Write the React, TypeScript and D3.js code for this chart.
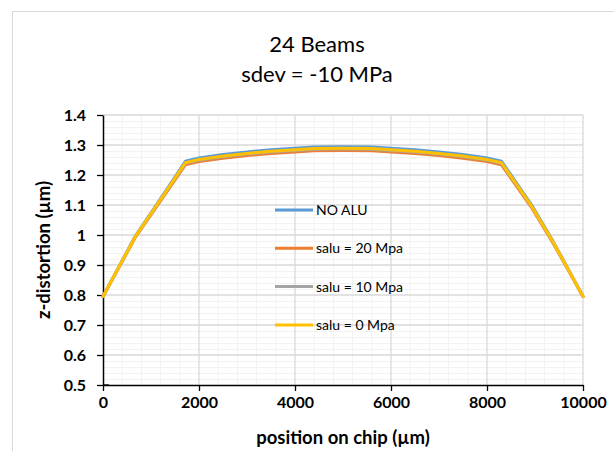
import React, { useRef, useEffect } from 'react';
import * as d3 from 'd3';

// position on chip (µm)
const positions = [0, 667, 1465, 1715, 2000, 2500, 3000, 3500, 4000, 4400, 5000, 5600, 6000, 6500, 7000, 7500, 8000, 8300, 8930, 9380, 10000];

const noAlu = [0.795, 0.995, 1.185, 1.246, 1.257, 1.268, 1.277, 1.284, 1.289, 1.293, 1.294, 1.293, 1.289, 1.284, 1.277, 1.268, 1.257, 1.246, 1.1, 0.978, 0.795];
const salu20 = [0.795, 0.99, 1.175, 1.234, 1.245, 1.256, 1.265, 1.272, 1.277, 1.281, 1.282, 1.281, 1.277, 1.272, 1.265, 1.256, 1.245, 1.234, 1.091, 0.972, 0.795];
const salu10 = [0.795, 0.992, 1.179, 1.239, 1.25, 1.261, 1.27, 1.277, 1.282, 1.286, 1.287, 1.286, 1.282, 1.277, 1.27, 1.261, 1.25, 1.239, 1.095, 0.975, 0.795];
const salu0 = [0.795, 0.993, 1.181, 1.241, 1.252, 1.263, 1.272, 1.279, 1.284, 1.288, 1.289, 1.288, 1.284, 1.279, 1.272, 1.263, 1.252, 1.241, 1.096, 0.976, 0.795];

const seriesNames = ['NO ALU', 'salu = 20 Mpa', 'salu = 10 Mpa', 'salu = 0 Mpa'];
const seriesColors = ['#5b9bd5', '#ed7d31', '#a5a5a5', '#ffc000'];

const xTicks = [0, 2000, 4000, 6000, 8000, 10000];
const yTicks = [0.5, 0.6, 0.7, 0.8, 0.9, 1, 1.1, 1.2, 1.3, 1.4];

const App = () => {
  const ref = useRef<SVGSVGElement>(null);

  useEffect(() => {
    const svg = d3.select(ref.current);
    svg.selectAll('*').remove();

    const width = 614;
    const height = 451;
    const margin = { top: 115, right: 31, bottom: 66, left: 103 };
    const font = 'Lato, "Open Sans", sans-serif';

    const x = d3.scaleLinear().domain([0, 10000]).range([margin.left, width - margin.right]);
    const y = d3.scaleLinear().domain([0.5, 1.4]).range([height - margin.bottom, margin.top]);

    svg.append('rect')
      .attr('x', 0).attr('y', 0).attr('width', width).attr('height', height)
      .attr('fill', 'white');

    // chart frame
    svg.append('rect')
      .attr('x', 12.5).attr('y', 11.5).attr('width', width + 20).attr('height', height + 20)
      .attr('fill', 'none').attr('stroke', '#d9d9d9');

    // minor grid
    const minorX = d3.range(0, 10001, 400).filter(v => v % 2000 !== 0);
    const minorY = d3.range(50, 141, 2).map(v => v / 100).filter(v => Math.round(v * 100) % 10 !== 0);

    const grid = svg.append('g');
    grid.selectAll('.mx').data(minorX).enter().append('line')
      .attr('x1', d => x(d)).attr('x2', d => x(d))
      .attr('y1', y(0.5)).attr('y2', y(1.4))
      .attr('stroke', '#f2f2f2').attr('stroke-width', 1);
    grid.selectAll('.my').data(minorY).enter().append('line')
      .attr('x1', x(0)).attr('x2', x(10000))
      .attr('y1', d => Math.round(y(d)) + 0.5).attr('y2', d => Math.round(y(d)) + 0.5)
      .attr('stroke', '#f2f2f2').attr('stroke-width', 1);
    grid.selectAll('.Mx').data(xTicks.slice(1)).enter().append('line')
      .attr('x1', d => x(d)).attr('x2', d => x(d))
      .attr('y1', y(0.5)).attr('y2', y(1.4))
      .attr('stroke', '#d9d9d9').attr('stroke-width', 1.3);
    grid.selectAll('.My').data(yTicks.slice(1)).enter().append('line')
      .attr('x1', x(0)).attr('x2', x(10000))
      .attr('y1', d => y(d)).attr('y2', d => y(d))
      .attr('stroke', '#d9d9d9').attr('stroke-width', 1.3);

    // axes
    const xAxis = svg.append('g')
      .attr('transform', `translate(0,${y(0.5)})`)
      .call(d3.axisBottom(x).tickValues(xTicks).tickFormat(d3.format('d')).tickSize(6).tickSizeOuter(0));
    const yAxis = svg.append('g')
      .attr('transform', `translate(${x(0)},0)`)
      .call(d3.axisLeft(y).tickValues(yTicks).tickFormat(d => String(d)).tickSize(6).tickSizeOuter(0));

    [xAxis, yAxis].forEach(a => {
      a.select('.domain').attr('stroke', '#000').attr('stroke-width', 1.5);
      a.selectAll('.tick line').attr('stroke', '#000').attr('stroke-width', 1.3);
      a.selectAll('.tick text')
        .attr('fill', '#000')
        .style('font-family', font)
        .style('font-size', '16px')
        .style('font-weight', 'bold');
    });
    xAxis.selectAll('.tick text').attr('y', 12).attr('dy', '0.71em');
    yAxis.selectAll('.tick text').attr('x', -17).attr('dy', '0.36em');
    // cross at axis origin
    svg.append('line')
      .attr('x1', x(0)).attr('x2', x(0) + 6)
      .attr('y1', y(0.5)).attr('y2', y(0.5))
      .attr('stroke', '#000').attr('stroke-width', 1.3);

    // series
    const series = [noAlu, salu20, salu10, salu0];
    const line = d3.line<number>()
      .x((_, i) => x(positions[i]))
      .y(d => y(d));

    svg.append('g')
      .selectAll('path')
      .data(series)
      .enter()
      .append('path')
      .attr('d', d => line(d))
      .attr('fill', 'none')
      .attr('stroke', (_, i) => seriesColors[i])
      .attr('stroke-width', 3)
      .attr('stroke-linejoin', 'round')
      .attr('stroke-linecap', 'round');

    // legend
    const legend = svg.append('g').attr('transform', 'translate(275,210)');
    seriesNames.forEach((name, i) => {
      const row = legend.append('g').attr('transform', `translate(0,${i * 38.3})`);
      row.append('line')
        .attr('x1', 0).attr('x2', 38)
        .attr('y1', 0).attr('y2', 0)
        .attr('stroke', seriesColors[i]).attr('stroke-width', 3);
      row.append('text')
        .attr('x', 41).attr('y', 0).attr('dy', '0.36em')
        .style('font-family', font).style('font-size', '14px')
        .attr('fill', '#000')
        .text(name);
    });

    // titles
    svg.append('text')
      .attr('x', 317).attr('y', 52)
      .attr('text-anchor', 'middle')
      .style('font-family', font).style('font-size', '22px')
      .attr('fill', '#000')
      .text('24 Beams');
    svg.append('text')
      .attr('x', 317).attr('y', 82)
      .attr('text-anchor', 'middle')
      .style('font-family', font).style('font-size', '22px')
      .attr('fill', '#000')
      .text('sdev = -10 MPa');

    svg.append('text')
      .attr('x', (x(0) + x(10000)) / 2).attr('y', 444)
      .attr('text-anchor', 'middle')
      .style('font-family', font).style('font-size', '18.5px').style('font-weight', 'bold')
      .attr('fill', '#000')
      .text('position on chip (µm)');

    svg.append('text')
      .attr('transform', `translate(50,${(y(0.5) + y(1.4)) / 2}) rotate(-90)`)
      .attr('text-anchor', 'middle')
      .style('font-family', font).style('font-size', '18.5px').style('font-weight', 'bold')
      .attr('fill', '#000')
      .text('z-distortion (µm)');
  }, []);

  return (
    <svg
      ref={ref}
      width={614}
      height={451}
      style={{ position: 'absolute', left: 0, top: 0, display: 'block' }}
    />
  );
};

export default App;
